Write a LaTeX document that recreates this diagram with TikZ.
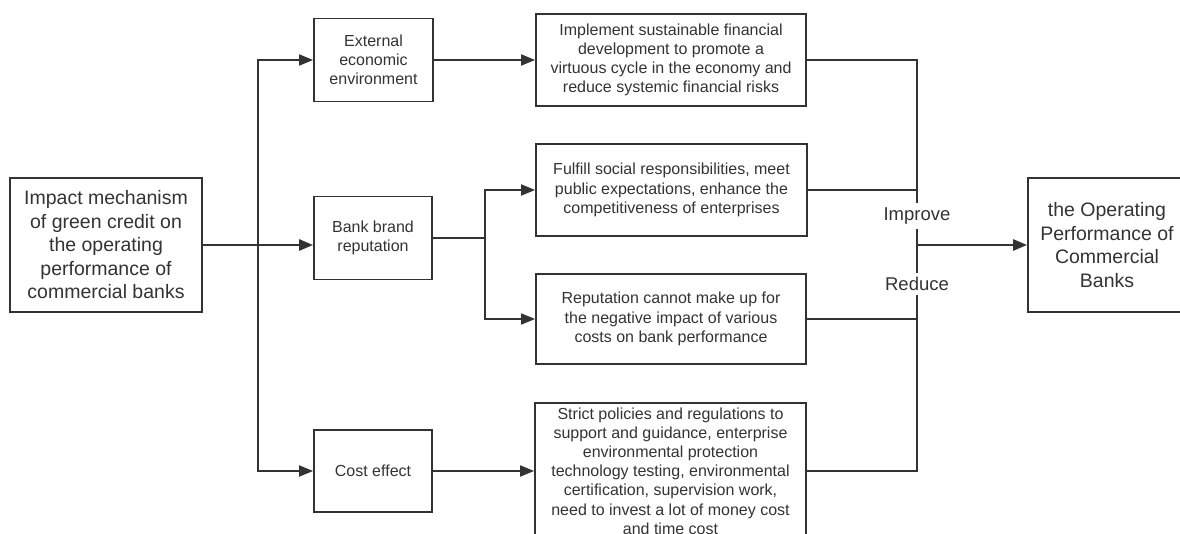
\documentclass[tikz,border=0pt]{standalone}
\usepackage{fontspec}
\setmainfont{Liberation Sans}
\usetikzlibrary{arrows.meta}
\definecolor{ink}{HTML}{333333}

\begin{document}
\begin{tikzpicture}[x=1pt,y=-1pt,
  box/.style={draw=ink,line width=1.8pt,text=ink,inner sep=0pt,align=center,font=\fontsize{16}{19.2}\selectfont},
  big/.style={box,font=\fontsize{19.5}{23.5}\selectfont},
  line/.style={draw=ink,line width=1.8pt},
  link/.style={line,-{Triangle[length=14pt,width=11pt]}},
  main/.style={link,line width=2.6pt},
  tag/.style={text=ink,inner xsep=0pt,inner ysep=4.5pt,font=\fontsize{18.5}{22}\selectfont}]
\useasboundingbox (0,0) rectangle (1180,534);

\node at (106,245) [big,minimum width=192pt,minimum height=134pt] (impact) {Impact mechanism\\of green credit on\\the operating\\performance of\\commercial banks};
\node at (373.5,60) [box,minimum width=119pt,minimum height=83pt] (ext) {External\\economic\\environment};
\node at (373,238) [box,minimum width=118pt,minimum height=83pt] (bank) {Bank brand\\reputation};
\node at (373,471) [box,minimum width=118pt,minimum height=82pt] (cost) {Cost effect};
\node at (671,60) [box,minimum width=270pt,minimum height=92pt] (impl) {Implement sustainable financial\\development to promote a\\virtuous cycle in the economy and\\reduce systemic financial risks};
\node at (671.5,190) [box,minimum width=271pt,minimum height=92pt] (fulfill) {Fulfill social responsibilities, meet\\public expectations, enhance the\\competitiveness of enterprises};
\node at (671,319) [box,minimum width=270pt,minimum height=90pt] (rep) {Reputation cannot make up for\\the negative impact of various\\costs on bank performance};
\node at (670.5,471) [box,minimum width=271pt,minimum height=136pt] (strict) {Strict policies and regulations to\\support and guidance, enterprise\\environmental protection\\technology testing, environmental\\certification, supervision work,\\need to invest a lot of money cost\\and time cost};
\node at (1107,245) [big,minimum width=158pt,minimum height=134pt] (perf) {the Operating\\Performance of\\Commercial\\Banks};
\node at (917,216) [tag] (improve) {Improve};
\node at (917,284) [tag] (reduce) {Reduce};

\coordinate (trunk) at (258,245);
\coordinate (fork) at (485,238);
\coordinate (join) at (917,245);

\draw[main] (impact) -- (impact -| bank.west);
\draw[link] (trunk) |- (ext);
\draw[link] (trunk) |- (cost);
\draw[link] (ext) -- (impl);
\draw[line] (bank) -- (fork);
\draw[link] (fork) |- (fulfill);
\draw[link] (fork) |- (rep);
\draw[link] (cost) -- (strict);
\draw[line] (impl) -| (improve);
\draw[line] (improve) -- (reduce);
\draw[line] (strict) -| (reduce);
\draw[line] (fulfill) -- (fulfill -| join);
\draw[line] (rep) -- (rep -| join);
\draw[main] (join) -- (perf);
\end{tikzpicture}
\end{document}
